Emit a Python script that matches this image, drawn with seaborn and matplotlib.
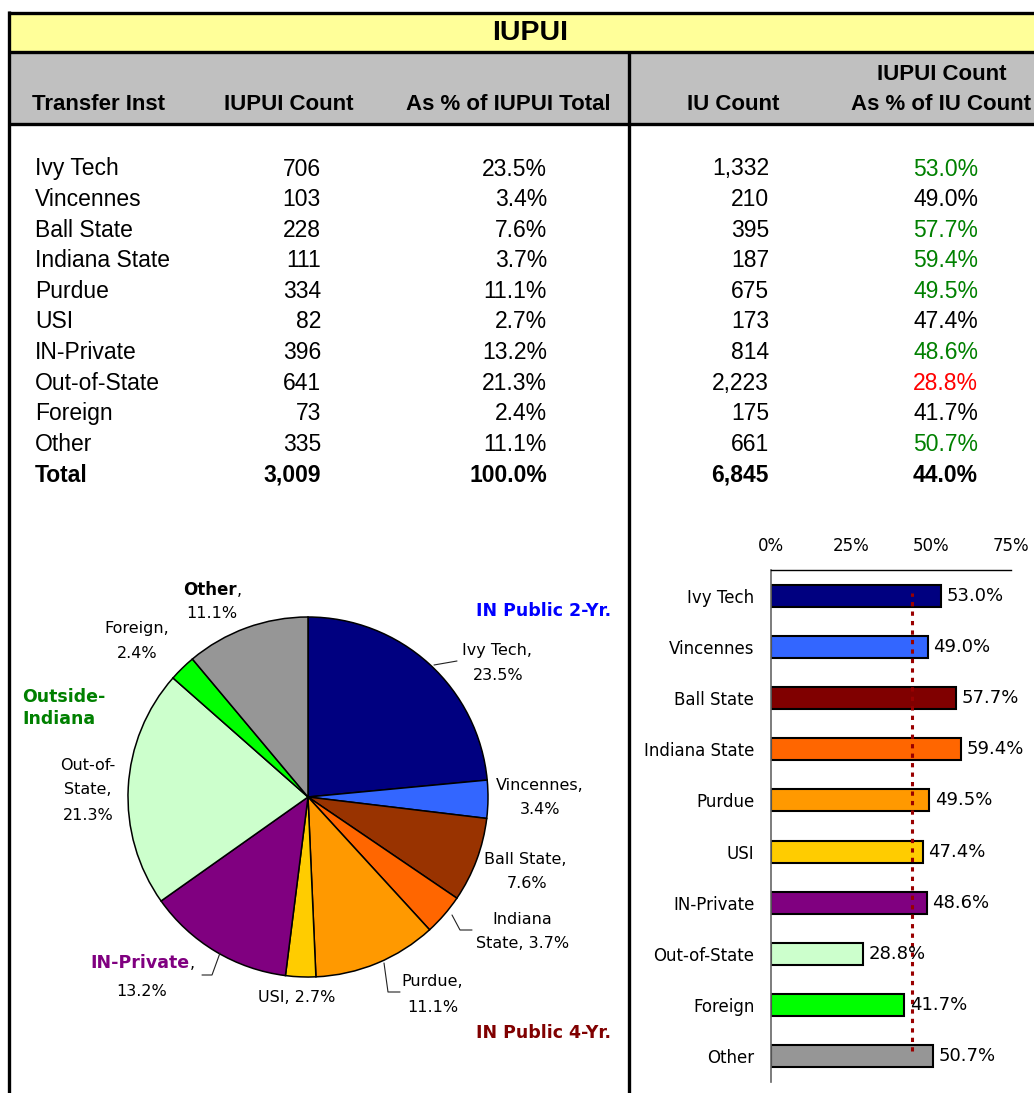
import matplotlib
matplotlib.use("Agg")
import matplotlib.pyplot as plt
from matplotlib.patches import Rectangle
import seaborn as sns
import pandas as pd

# ---------------- data ----------------
institutions = ["Ivy Tech", "Vincennes", "Ball State", "Indiana State", "Purdue",
                "USI", "IN-Private", "Out-of-State", "Foreign", "Other"]
iupui_count = [706, 103, 228, 111, 334, 82, 396, 641, 73, 335]
iupui_pct = [23.5, 3.4, 7.6, 3.7, 11.1, 2.7, 13.2, 21.3, 2.4, 11.1]
iu_count = [1332, 210, 395, 187, 675, 173, 814, 2223, 175, 661]
share_of_iu = [53.0, 49.0, 57.7, 59.4, 49.5, 47.4, 48.6, 28.8, 41.7, 50.7]
total_label = "Total"
total_iupui = 3009
total_pct = 100.0
total_iu = 6845
total_share = 44.0
share_colors = ["#008000", "black", "#008000", "#008000", "#008000",
                "black", "#008000", "#FF0000", "black", "#008000"]
pie_colors = ["#000080", "#3366FF", "#993300", "#FF6600", "#FF9900",
              "#FFCC00", "#800080", "#CCFFCC", "#00FF00", "#969696"]
bar_colors = ["#000080", "#3366FF", "#800000", "#FF6600", "#FF9900",
              "#FFCC00", "#800080", "#CCFFCC", "#00FF00", "#969696"]
x_ticks = [0, 25, 50, 75]
title = "IUPUI"
headers = ["Transfer Inst", "IUPUI Count", "As % of IUPUI Total", "IU Count"]
header_last = ["IUPUI Count", "As % of IU Count"]
group_labels = [("IN Public 2-Yr.", "#0000FF"), ("IN Public 4-Yr.", "#800000"),
                ("Outside-\nIndiana", "#008000")]

# ---------------- setup ----------------
sns.set_theme(style="white")
plt.rcParams["font.family"] = ["DejaVu Sans"]
plt.rcParams["text.color"] = "black"

W, H = 1034, 1093
fig = plt.figure(figsize=(W / 100, H / 100), dpi=100)
fig.patch.set_facecolor("white")

bg = fig.add_axes([0, 0, 1, 1])
bg.set_xlim(0, W)
bg.set_ylim(H, 0)
bg.axis("off")

TF = "Liberation Sans"

# bands
bg.add_patch(Rectangle((9, 13), W, 38, facecolor="#FFFF99", edgecolor="none"))
bg.add_patch(Rectangle((9, 52), W, 71, facecolor="#C0C0C0", edgecolor="none"))
# borders
lw = 2.4
bg.plot([8, W], [12.5, 12.5], color="black", lw=lw, solid_capstyle="butt")
bg.plot([8, W], [51.5, 51.5], color="black", lw=lw, solid_capstyle="butt")
bg.plot([8, W], [123.5, 123.5], color="black", lw=lw, solid_capstyle="butt")
bg.plot([8.5, 8.5], [11, H], color="black", lw=lw, solid_capstyle="butt")
bg.plot([628.5, 628.5], [51, H], color="black", lw=lw, solid_capstyle="butt")

bg.text(530, 33, title, ha="center", va="center", fontsize=20.5, fontweight="bold",
        family=TF, color="black")

hfs = 16
hx = [98, 289, 508, 733]
for x, h in zip(hx, headers):
    bg.text(x, 104, h, ha="center", va="center", fontsize=hfs, fontweight="bold",
            family=TF, color="black")
bg.text(942, 75, header_last[0], ha="center", va="center", fontsize=hfs, fontweight="bold",
        family=TF, color="black")
bg.text(851, 104, header_last[1], ha="left", va="center", fontsize=hfs, fontweight="bold",
        family=TF, color="black", clip_on=True)

row0, dy = 169, 30.6
fs = 16.5
for i, name in enumerate(institutions):
    y = row0 + i * dy
    bg.text(35, y, name, ha="left", va="center", fontsize=fs, family=TF, color="black")
    bg.text(321, y, f"{iupui_count[i]:,}", ha="right", va="center", fontsize=fs, family=TF, color="black")
    bg.text(547, y, f"{iupui_pct[i]:.1f}%", ha="right", va="center", fontsize=fs, family=TF, color="black")
    bg.text(769, y, f"{iu_count[i]:,}", ha="right", va="center", fontsize=fs, family=TF, color="black")
    bg.text(978, y, f"{share_of_iu[i]:.1f}%", ha="right", va="center", fontsize=fs,
            family=TF, color=share_colors[i])
y = row0 + len(institutions) * dy
for x, s, ha in [(35, total_label, "left"), (321, f"{total_iupui:,}", "right"),
                 (547, f"{total_pct:.1f}%", "right"), (769, f"{total_iu:,}", "right"),
                 (978, f"{total_share:.1f}%", "right")]:
    bg.text(x, y, s, ha=ha, va="center", fontsize=fs, family=TF, fontweight="bold", color="black")

# ---------------- pie ----------------
CX, CY, R, HALF = 308, 797, 180, 290
pax = fig.add_axes([(CX - HALF) / W, (H - CY - HALF) / H, 2 * HALF / W, 2 * HALF / H])
pax.pie(iupui_pct, colors=pie_colors, startangle=90, counterclock=False,
        wedgeprops=dict(edgecolor="black", linewidth=1.1))
lim = HALF / R
pax.set_xlim(-lim, lim)
pax.set_ylim(-lim, lim)
pax.set_aspect("equal")
pax.axis("off")
pax.patch.set_alpha(0)


def P(px, py):
    return (px - CX) / R, (CY - py) / R


pfs = 11.5


def plabel(px, py, s, ha="center", color="black", **kw):
    x, y = P(px, py)
    pax.text(x, y, s, ha=ha, va="center", fontsize=kw.pop("fontsize", pfs), color=color, **kw)


pct = {n: f"{v:.1f}%" for n, v in zip(institutions, iupui_pct)}
plabel(237, 590, "Other", ha="right", fontweight="bold", fontsize=12)
plabel(237, 590, ",", ha="left")
plabel(212, 614, pct["Other"])
plabel(137, 629, "Foreign,")
plabel(137, 654, pct["Foreign"])
plabel(88, 765, "Out-of-")
plabel(88, 790, "State,")
plabel(88, 815, pct["Out-of-State"])
plabel(190, 963, "IN-Private", ha="right", fontweight="bold", color="#800080", fontsize=12.5)
plabel(190, 963, ",", ha="left")
plabel(142, 991, pct["IN-Private"])
plabel(297, 997, f"USI, {pct['USI']}")
plabel(432, 982, "Purdue,")
plabel(433, 1007, pct["Purdue"])
plabel(522, 919, "Indiana")
plabel(523, 944, f"State, {pct['Indiana State']}")
plabel(525, 859, "Ball State,")
plabel(527, 884, pct["Ball State"])
plabel(540, 785, "Vincennes,")
plabel(540, 809, pct["Vincennes"])
plabel(497, 650, "Ivy Tech,")
plabel(498, 675, pct["Ivy Tech"])

plabel(544, 611, group_labels[0][0], fontweight="bold", color=group_labels[0][1], fontsize=12.5)
plabel(544, 1033, group_labels[1][0], fontweight="bold", color=group_labels[1][1], fontsize=12.5)
plabel(22, 708, group_labels[2][0], ha="left", fontweight="bold", color=group_labels[2][1],
       fontsize=12.5, linespacing=1.35)

leaders = [
    [(434, 665), (457, 661)],
    [(452, 915), (460, 930), (472, 930)],
    [(384, 963), (388, 992), (400, 992)],
    [(220, 953), (212, 975), (202, 975)],
]
for pts in leaders:
    xs, ys = zip(*[P(a, b) for a, b in pts])
    pax.plot(xs, ys, color="#222222", lw=0.8)

# ---------------- bar chart ----------------
BL, BR, BT, BB = 771, 1011, 570, 1082
bax = fig.add_axes([BL / W, (H - BB) / H, (BR - BL) / W, (BB - BT) / H])
df = pd.DataFrame({"inst": institutions, "share": share_of_iu})
sns.barplot(data=df, y="inst", x="share", hue="inst", palette=bar_colors, legend=False,
            orient="h", width=0.43, saturation=1, edgecolor="black", linewidth=1.5, ax=bax)
bax.set_xlim(0, 75)
bax.set_ylim(9.5, -0.5)
bax.xaxis.tick_top()
bax.set_xticks(x_ticks)
bax.set_xticklabels([f"{t}%" for t in x_ticks])
bax.tick_params(axis="x", length=0, pad=11, labelsize=12, colors="black")
bax.tick_params(axis="y", length=0, pad=12, labelsize=12, colors="black")
bax.set_xlabel("")
bax.set_ylabel("")
bax.patch.set_alpha(0)
for s in ["right", "bottom"]:
    bax.spines[s].set_visible(False)
bax.spines["top"].set_color("black")
bax.spines["top"].set_linewidth(1.0)
bax.spines["left"].set_color("#666666")
bax.spines["left"].set_linewidth(1.2)
bax.grid(False)
bax.axvline(total_share, ymin=0.06, ymax=0.955, color="#990000", lw=2.2,
            linestyle=(0, (1.4, 1.7)))
for i, v in enumerate(share_of_iu):
    bax.text(v + 1.8, i, f"{v:.1f}%", ha="left", va="center", fontsize=13, color="black")

fig.savefig("out.png", dpi=100)
